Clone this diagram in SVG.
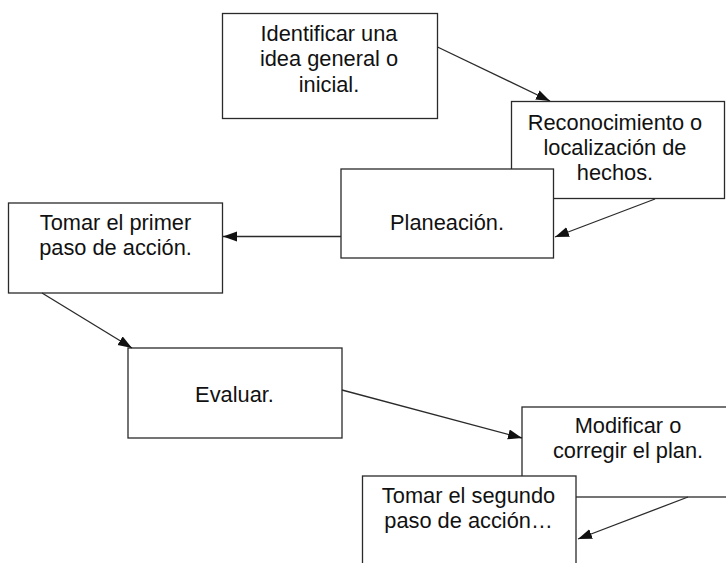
<svg xmlns="http://www.w3.org/2000/svg" width="726" height="563" viewBox="0 0 726 563">
<style>
  .box{fill:#fff;stroke:#2a2a2a;stroke-width:1.3}
  .lbl{font-family:"Liberation Sans",Arial,sans-serif;font-size:21.8px;fill:#111;text-anchor:middle}
  .con{stroke:#2a2a2a;stroke-width:1.3;fill:none;marker-end:url(#arr)}
</style>
<defs>
  <marker id="arr" markerUnits="userSpaceOnUse" markerWidth="15" markerHeight="11" refX="14" refY="5" orient="auto">
    <path d="M0,0 L14,5 L0,10 Z" fill="#111"/>
  </marker>
</defs>
<rect width="726" height="563" fill="#fff"/>
<g id="n1">
  <rect class="box" x="222.5" y="13.5" width="215" height="105"/>
  <text class="lbl" x="329" y="40.7">Identificar una</text>
  <text class="lbl" x="329" y="66">idea general o</text>
  <text class="lbl" x="329" y="91.7">inicial.</text>
</g>
<g id="n2">
  <rect class="box" x="511.5" y="101.5" width="213" height="97"/>
  <text class="lbl" x="615" y="130">Reconocimiento o</text>
  <text class="lbl" x="615" y="155">localización de</text>
  <text class="lbl" x="615" y="180">hechos.</text>
</g>
<g id="n3">
  <rect class="box" x="341" y="169" width="212.5" height="89"/>
  <text class="lbl" x="447" y="230">Planeación.</text>
</g>
<g id="n4">
  <rect class="box" x="8.5" y="203" width="214" height="90"/>
  <text class="lbl" x="115.5" y="230">Tomar el primer</text>
  <text class="lbl" x="115.5" y="255">paso de acción.</text>
</g>
<g id="n5">
  <rect class="box" x="128" y="348" width="214" height="90"/>
  <text class="lbl" x="234.5" y="401.7">Evaluar.</text>
</g>
<g id="n6">
  <rect class="box" x="522" y="407" width="213" height="90"/>
  <text class="lbl" x="628" y="432.5">Modificar o</text>
  <text class="lbl" x="628" y="458.3">corregir el plan.</text>
</g>
<g id="n7">
  <rect class="box" x="362.5" y="476" width="213.5" height="92"/>
  <text class="lbl" x="468.5" y="503.3">Tomar el segundo</text>
  <text class="lbl" x="468.5" y="528.3">paso de acción…</text>
</g>
<g id="connectors">
  <line class="con" x1="437.5" y1="47" x2="550" y2="101"/>
  <line class="con" x1="655" y1="199" x2="555" y2="237"/>
  <line class="con" x1="341" y1="236.5" x2="223" y2="236.5"/>
  <line class="con" x1="42" y1="293" x2="132" y2="348"/>
  <line class="con" x1="342" y1="390" x2="522" y2="438"/>
  <line class="con" x1="688" y1="497" x2="578" y2="539"/>
</g>
</svg>
